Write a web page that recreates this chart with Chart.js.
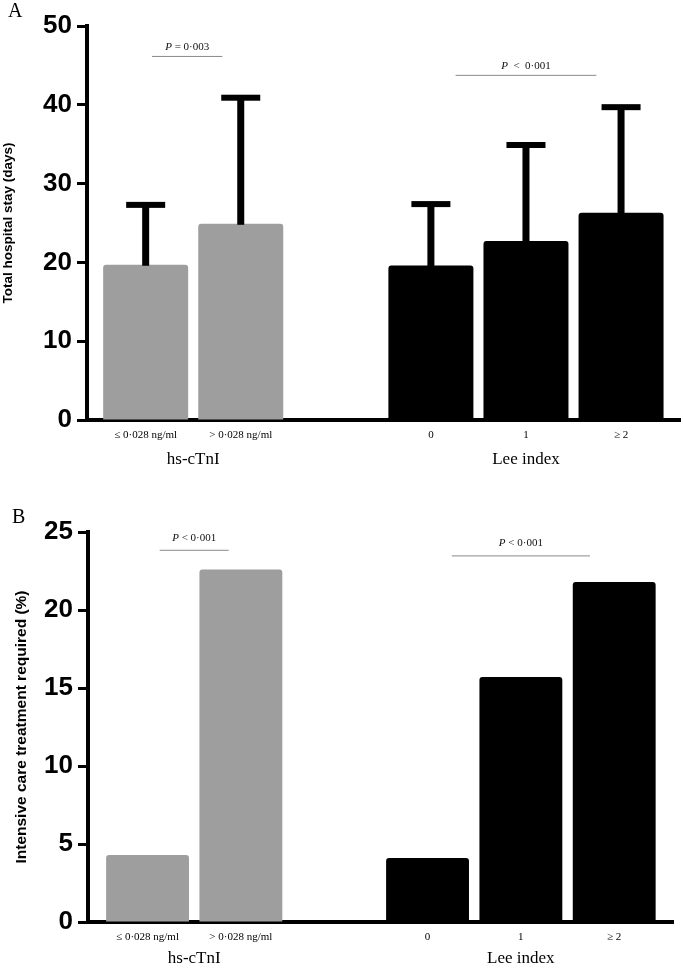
<!DOCTYPE html>
<html>
<head>
<meta charset="utf-8">
<script src="https://cdn.jsdelivr.net/npm/chart.js@4.4.0/dist/chart.umd.min.js"></script>
<style>
  body { margin: 0; background: #fff; }
  #wrap { position: relative; width: 683px; height: 969px; }
  .panel { position: absolute; left: 0; width: 683px; }
  .letter { position: absolute; font-family: 'Liberation Serif', serif; font-size: 20px; line-height: 1; color: #000; }
</style>
</head>
<body>
<div id="wrap">
  <div class="panel" style="top:0; height:475px;"><canvas id="chartA" width="683" height="475"></canvas></div>
  <div class="panel" style="top:480px; height:489px;"><canvas id="chartB" width="683" height="489"></canvas></div>
  <div class="letter" style="left:8px; top:0px;">A</div>
  <div class="letter" style="left:12px; top:506px;">B</div>
</div>
<script>
// categories (empty slot separates the two groups)
const categories = ['≤ 0·028 ng/ml', '> 0·028 ng/ml', '', '0', '1', '≥ 2'];
const groupNames = ['hs-cTnI', 'Lee index'];
const groupMembers = [[0, 1], [3, 4, 5]];

// panel A: total hospital stay, mean and SD
const stayMean = [19.7, 24.9, null, 19.6, 22.7, 26.3];
const staySD = [7.6, 16.0, null, 7.8, 12.2, 13.4];
const stayTicks = [0, 10, 20, 30, 40, 50];
const stayP = ['P = 0·003', 'P  <  0·001'];

// panel B: intensive care required, %
const icuPercent = [4.3, 22.6, null, 4.1, 15.7, 21.8];
const icuTicks = [0, 5, 10, 15, 20, 25];
const icuP = ['P < 0·001', 'P < 0·001'];

const barColors = ['#9e9e9e', '#9e9e9e', '#9e9e9e', '#000000', '#000000', '#000000'];

// category index -> point, empty slot dropped
function points(values) {
  return categories.map((c, i) => ({ x: i, y: values[i] })).filter(p => p.y != null);
}
const usedIdx = categories.map((c, i) => i).filter(i => categories[i] !== '');

function drawPText(ctx, text, cx, cy) {
  const first = text.charAt(0), rest = text.slice(1);
  ctx.font = 'italic 11px "Liberation Serif"';
  const w1 = ctx.measureText(first).width;
  ctx.font = '11px "Liberation Serif"';
  const w2 = ctx.measureText(rest).width;
  let x = cx - (w1 + w2) / 2;
  ctx.textAlign = 'left';
  ctx.textBaseline = 'middle';
  ctx.fillStyle = '#111';
  ctx.font = 'italic 11px "Liberation Serif"';
  ctx.fillText(first, x, cy);
  ctx.font = '11px "Liberation Serif"';
  ctx.fillText(rest, x + w1, cy);
}

function statsPlugin(o) {
  return {
    id: 'stats',
    afterDatasetsDraw(chart) {
      const ctx = chart.ctx;
      const x = chart.scales.x, y = chart.scales.y;
      ctx.save();
      // error bars (upper only)
      if (o.sd) {
        ctx.fillStyle = '#000';
        o.sd.forEach((sd, i) => {
          if (sd == null) return;
          const cx = x.getPixelForValue(i);
          const base = y.getPixelForValue(o.values[i]);
          const top = y.getPixelForValue(o.values[i] + sd);
          ctx.fillRect(cx - 3.5, top, 7, base - top + 1);
          ctx.fillRect(cx - 19.5, top - 3, 39, 6);
        });
      }
      // significance lines
      groupMembers.forEach((m, g) => {
        const a = x.getPixelForValue(m[0]);
        const b = x.getPixelForValue(m[m.length - 1]);
        const mid = (a + b) / 2 + o.pShift[g], half = (b - a) * 0.37;
        const ly = y.getPixelForValue(o.pLevels[g]);
        ctx.strokeStyle = '#8a8a8a';
        ctx.lineWidth = 1;
        ctx.beginPath();
        ctx.moveTo(mid - half, ly + 0.5);
        ctx.lineTo(mid + half, ly + 0.5);
        ctx.stroke();
        drawPText(ctx, o.pText[g], mid, ly - o.pGap);
      });
      ctx.restore();
    },
    afterDraw(chart) {
      const ctx = chart.ctx;
      const x = chart.scales.x;
      ctx.save();
      ctx.font = '17px "Liberation Serif"';
      ctx.fillStyle = '#000';
      ctx.textAlign = 'center';
      ctx.textBaseline = 'middle';
      groupMembers.forEach((m, g) => {
        let sx = 0;
        m.forEach(i => { sx += x.getPixelForValue(i); });
        ctx.fillText(groupNames[g], sx / m.length, chart.chartArea.bottom + o.groupOffset);
      });
      ctx.restore();
    }
  };
}

function makeChart(id, values, cfg) {
  const colors = categories.map((c, i) => barColors[i]).filter((c, i) => values[i] != null);
  return new Chart(document.getElementById(id), {
    type: 'bar',
    data: {
      datasets: [{
        data: points(values),
        backgroundColor: colors,
        borderRadius: 3,
        barPercentage: cfg.barPct,
        categoryPercentage: 1
      }]
    },
    options: {
      responsive: false,
      animation: false,
      devicePixelRatio: 1,
      layout: { padding: { top: cfg.top, right: cfg.right, left: 0, bottom: 0 } },
      plugins: { legend: { display: false }, tooltip: { enabled: false } },
      scales: {
        x: {
          type: 'linear',
          offset: false,
          min: cfg.xMin,
          max: cfg.xMax,
          z: 1,
          afterBuildTicks(s) { s.ticks = usedIdx.map(v => ({ value: v })); },
          grid: { display: false, drawTicks: false },
          border: { display: true, width: 4, color: '#000' },
          ticks: { color: '#000', padding: 9, maxRotation: 0, autoSkip: false,
                   callback: v => categories[v],
                   font: { family: 'Liberation Serif', size: 11 } },
          afterFit(s) { s.height = cfg.xHeight; s.paddingLeft = 0; s.paddingRight = 0; }
        },
        y: {
          min: 0,
          max: cfg.ticks[cfg.ticks.length - 1],
          afterBuildTicks(s) { s.ticks = cfg.ticks.map(v => ({ value: v })); },
          grid: { display: true, drawOnChartArea: false, drawTicks: true, tickLength: 10,
                  tickWidth: 3, tickColor: '#000' },
          border: { display: true, width: 4, color: '#000' },
          ticks: { color: '#000', padding: 5,
                   font: { family: 'Liberation Sans', size: 26, weight: 'bold' } },
          title: { display: true, text: cfg.title, color: '#000',
                   padding: { top: cfg.titlePad, bottom: 0 },
                   font: { family: 'Liberation Sans', size: cfg.titleSize, weight: 'bold' } },
          afterFit(s) { s.width = cfg.yWidth; s.paddingTop = 0; s.paddingBottom = 0; }
        }
      }
    },
    plugins: [statsPlugin(cfg)]
  });
}

makeChart('chartA', stayMean, {
  values: stayMean, sd: staySD, ticks: stayTicks, pText: stayP, pLevels: [46.2, 43.8], pGap: 9,
  pShift: [-6, 0],
  title: 'Total hospital stay (days)', titlePad: 0, titleSize: 13.5, top: 26, right: 3, xHeight: 55,
  yWidth: 87, xMin: -0.617, xMax: 5.62, barPct: 0.894, groupOffset: 40
});

makeChart('chartB', icuPercent, {
  values: icuPercent, sd: null, ticks: icuTicks, pText: icuP, pLevels: [23.86, 23.5], pGap: 12,
  pShift: [0, 0],
  title: 'Intensive care treatment required (%)', titlePad: 12, titleSize: 15.5, top: 52, right: 10, xHeight: 47,
  yWidth: 88, xMin: -0.638, xMax: 5.63, barPct: 0.888, groupOffset: 37
});
</script>
</body>
</html>
